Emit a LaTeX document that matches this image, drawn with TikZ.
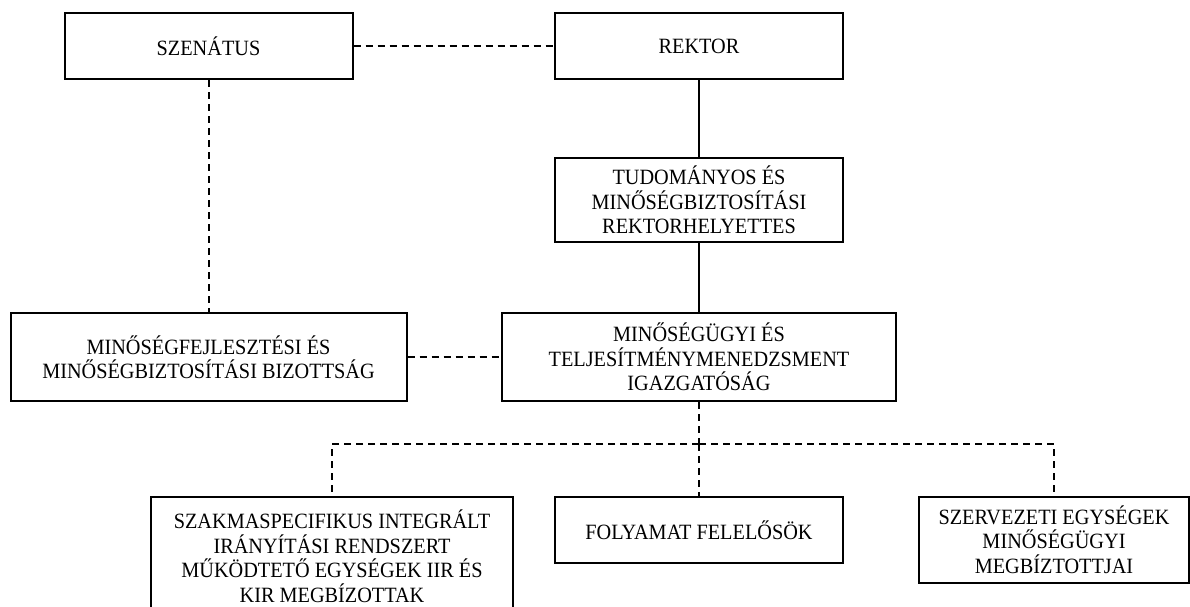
\documentclass[tikz,border=0pt]{standalone}
\usepackage{fontspec}
\setmainfont{Liberation Serif}[FakeStretch=0.93]
\usepackage{tikz}
\tikzstyle{unit}=[draw,rectangle,black,line width=2pt,align=center,inner sep=0pt,font=\fontsize{21.8}{24.5}\selectfont]
\tikzstyle{pose}=[line width=2pt,solid,black]
\tikzstyle{nege}=[line width=2pt,dash pattern=on 7pt off 5pt,black]

\begin{document}
\begin{tikzpicture}[x=1pt,y=-1pt]
	\useasboundingbox (0,0) rectangle (1190,606);
	\clip (0,0) rectangle (1190,606);
	% upper row
	\node[unit,minimum width=288,minimum height=66] (szenatus) at (208.5,46) {SZENÁTUS};
	\node[unit,minimum width=288,minimum height=66] (rektor) at (699,46) {REKTOR};
	\node[unit,minimum width=288,minimum height=84] (tudrh) at (699,200)
		{TUDOMÁNYOS ÉS\\MINŐSÉGBIZTOSÍTÁSI\\REKTORHELYETTES};
	% middle row
	\node[unit,minimum width=396,minimum height=88] (bizottsag) at (208.5,357)
		{MINŐSÉGFEJLESZTÉSI ÉS\\MINŐSÉGBIZTOSÍTÁSI BIZOTTSÁG};
	\node[unit,minimum width=394,minimum height=88] (igazg) at (699,357)
		{MINŐSÉGÜGYI ÉS\\TELJESÍTMÉNYMENEDZSMENT\\IGAZGATÓSÁG};
	% lower row
	\node[unit,minimum width=362,minimum height=118] (szakma) at (332,556)
		{SZAKMASPECIFIKUS INTEGRÁLT\\IRÁNYÍTÁSI RENDSZERT\\MŰKÖDTETŐ EGYSÉGEK IIR ÉS\\KIR MEGBÍZOTTAK};
	\node[unit,minimum width=288,minimum height=66] (folyamat) at (699,530) {FOLYAMAT FELELŐSÖK};
	\node[unit,minimum width=270,minimum height=86] (szervezeti) at (1054,539.5)
		{SZERVEZETI EGYSÉGEK\\MINŐSÉGÜGYI\\MEGBÍZTOTTJAI};
	\coordinate (elag) at (699,444);

	\foreach \source/\dest in {rektor/tudrh, tudrh/igazg}
	\draw[pose] (\source.south) -- (\dest.north);

	\draw[nege] (szenatus.east) -- (rektor.west);
	\draw[nege] (szenatus.south) -- (bizottsag.north);
	\draw[nege] (bizottsag.east) -- (igazg.west);
	\draw[nege] (igazg.south) -- (elag);
	\foreach \dest in {szakma, folyamat, szervezeti}
	\draw[nege] (elag) -| (\dest.north);

\end{tikzpicture}
\end{document}
